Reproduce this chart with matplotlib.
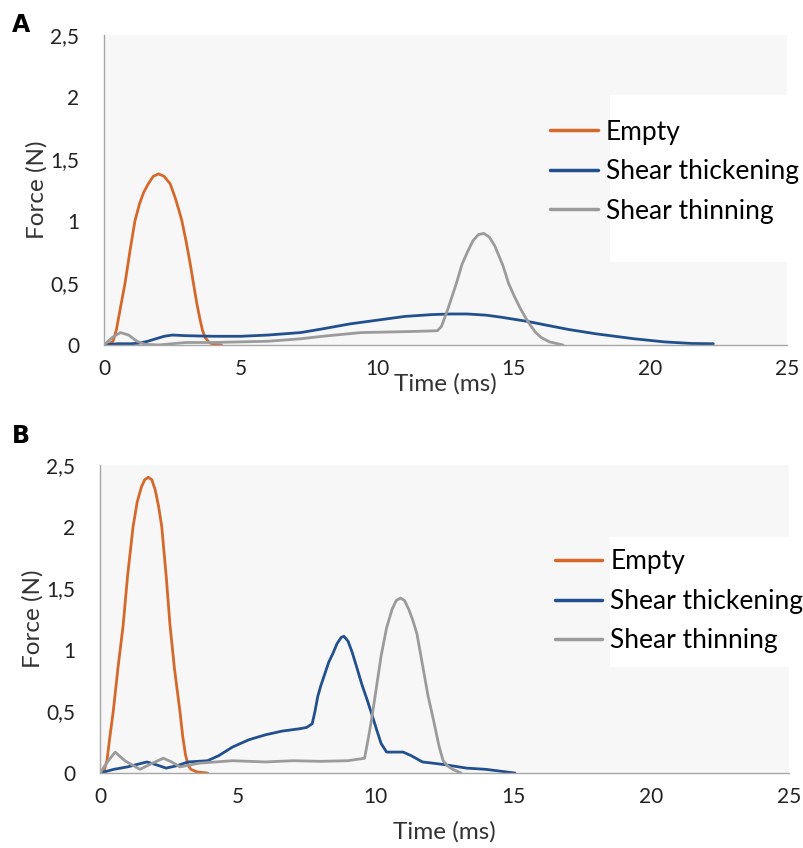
import numpy as np
import matplotlib
matplotlib.use("Agg")
import matplotlib.pyplot as plt
from matplotlib.patches import Rectangle

plt.rcParams['font.family'] = ['Lato', 'DejaVu Sans']

# ===============================
# Data (time in ms, force in N)
# ===============================

# Panel A
a_empty_t = [0, 0.2, 0.33, 0.45, 0.6, 0.77, 0.95, 1.13, 1.3, 1.45, 1.62, 1.8, 2.0, 2.2, 2.42, 2.6, 2.75,
             2.85, 3.0, 3.15, 3.27, 3.4, 3.5, 3.6, 3.7, 3.85, 4.0, 4.3]
a_empty_f = [0, 0.01, 0.03, 0.12, 0.3, 0.5, 0.76, 1.0, 1.14, 1.23, 1.3, 1.36, 1.38, 1.36, 1.3, 1.19, 1.08,
             1.0, 0.84, 0.66, 0.5, 0.33, 0.22, 0.12, 0.06, 0.02, 0.005, 0.0]

a_thick_t = [0, 0.5, 1.0, 1.3, 1.6, 1.9, 2.2, 2.5, 3.0, 4.0, 5.0, 6.0, 7.2, 8.0, 9.0, 10.0, 11.0, 12.0, 12.7,
             13.3, 14.0, 14.5, 15.5, 16.3, 17.0, 18.0, 19.4, 20.5, 21.5, 22.3]
a_thick_f = [0, 0.01, 0.01, 0.015, 0.03, 0.05, 0.07, 0.08, 0.075, 0.07, 0.07, 0.08, 0.1, 0.13, 0.17, 0.2, 0.23,
             0.245, 0.25, 0.25, 0.24, 0.225, 0.19, 0.155, 0.125, 0.09, 0.05, 0.025, 0.012, 0.01]

a_thin_t = [0, 0.3, 0.6, 0.9, 1.2, 1.5, 2.0, 3.0, 4.0, 5.0, 6.0, 7.2, 8.0, 9.4, 10.5, 11.5, 12.2, 12.35,
            12.6, 12.9, 13.1, 13.3, 13.5, 13.7, 13.9, 14.1, 14.3, 14.6, 14.8, 15.0, 15.2, 15.4, 15.6,
            15.8, 16.0, 16.3, 16.8]
a_thin_f = [0, 0.06, 0.1, 0.08, 0.03, 0.005, 0.0, 0.02, 0.02, 0.025, 0.03, 0.05, 0.07, 0.1, 0.105, 0.11, 0.115,
            0.15, 0.3, 0.5, 0.65, 0.75, 0.84, 0.89, 0.9, 0.87, 0.8, 0.64, 0.5, 0.4, 0.31, 0.23, 0.16,
            0.1, 0.06, 0.025, 0.0]

# Panel B
b_empty_t = [0, 0.15, 0.25, 0.35, 0.48, 0.65, 0.84, 1.0, 1.2, 1.35, 1.5, 1.62, 1.75, 1.88, 2.0, 2.12, 2.24,
             2.4, 2.54, 2.7, 2.9, 3.0, 3.1, 3.2, 3.3, 3.5, 3.9]
b_empty_f = [0, 0.02, 0.1, 0.28, 0.5, 0.85, 1.2, 1.6, 2.0, 2.2, 2.32, 2.38, 2.4, 2.38, 2.3, 2.17, 2.0,
             1.6, 1.2, 0.85, 0.5, 0.3, 0.15, 0.06, 0.03, 0.01, 0.0]

b_thick_t = [0, 0.5, 1.0, 1.7, 2.0, 2.4, 2.8, 3.2, 3.9, 4.3, 4.8, 5.4, 6.0, 6.6, 7.26, 7.5, 7.7, 7.8, 7.9,
             8.0, 8.15, 8.3, 8.45, 8.6, 8.75, 8.85, 9.0, 9.15, 9.3, 9.5, 9.7, 9.9, 10.04, 10.2, 10.4,
             10.7, 11.0, 11.3, 11.7, 12.45, 13.3, 14.0, 15.06]
b_thick_f = [0, 0.03, 0.05, 0.09, 0.07, 0.04, 0.06, 0.09, 0.1, 0.14, 0.21, 0.27, 0.31, 0.34, 0.36, 0.37, 0.4,
             0.5, 0.62, 0.7, 0.8, 0.9, 0.97, 1.05, 1.1, 1.11, 1.07, 0.98, 0.87, 0.72, 0.59, 0.45, 0.35,
             0.24, 0.17, 0.17, 0.17, 0.14, 0.09, 0.07, 0.04, 0.03, 0.0]

b_thin_t = [0, 0.3, 0.55, 0.9, 1.45, 1.9, 2.3, 2.6, 2.9, 3.6, 4.8, 6.0, 7.0, 8.0, 9.0, 9.6, 9.75, 9.85,
            10.0, 10.2, 10.4, 10.6, 10.75, 10.9, 11.05, 11.2, 11.35, 11.5, 11.7, 11.9, 12.1, 12.3,
            12.45, 12.6, 12.8, 13.1]
b_thin_f = [0, 0.1, 0.17, 0.1, 0.03, 0.08, 0.12, 0.09, 0.05, 0.08, 0.1, 0.09, 0.1, 0.095, 0.1, 0.12, 0.3, 0.43,
            0.65, 0.95, 1.18, 1.33, 1.4, 1.42, 1.4, 1.33, 1.24, 1.13, 0.88, 0.63, 0.43, 0.22,
            0.1, 0.06, 0.03, 0.0]

SERIES_LABELS = ["Empty", "Shear thickening", "Shear thinning"]
COLORS = ["#d4692b", "#22508f", "#9b9b9b"]
Y_TICKS = [0, 0.5, 1, 1.5, 2, 2.5]
Y_TICK_LABELS = ["0", "0,5", "1", "1,5", "2", "2,5"]
X_TICKS = [0, 5, 10, 15, 20, 25]

# ===============================
# Figure
# ===============================

fig = plt.figure(figsize=(8.04, 8.48), dpi=100)

panels = [
    # letter, axes rect, data, legend anchor, letter pos, xlabel pad, white patch (figure coords)
    ("A", [0.1294, 0.5932, 0.8496, 0.3655], (a_empty_t, a_empty_f), (a_thick_t, a_thick_f),
     (a_thin_t, a_thin_f), (0.653, 0.727), (0.015, 0.97), -4, (0.7587, 0.691, 0.2413, 0.197)),
    ("B", [0.1244, 0.0884, 0.8569, 0.3633], (b_empty_t, b_empty_f), (b_thick_t, b_thick_f),
     (b_thin_t, b_thin_f), (0.660, 0.726), (0.015, 0.486), 10, (0.7587, 0.2134, 0.2413, 0.1533)),
]

for letter, rect, empty, thick, thin, leg_anchor, letter_pos, xpad, patch in panels:
    ax = fig.add_axes(rect)
    ax.set_facecolor("#f7f7f7")
    # white area behind the legend text, as in the source image
    ax.add_patch(Rectangle(patch[:2], patch[2], patch[3], transform=fig.transFigure,
                           facecolor="white", edgecolor="none", zorder=0.5, clip_on=False))
    for (t, f), lab, col in zip([empty, thick, thin], SERIES_LABELS, COLORS):
        ax.plot(t, f, color=col, lw=2.0, label=lab, solid_capstyle="round")
    ax.set_xlim(0, 25)
    ax.set_ylim(0, 2.5)
    ax.set_xticks(X_TICKS)
    ax.set_yticks(Y_TICKS)
    ax.set_yticklabels(Y_TICK_LABELS)
    ax.tick_params(length=0, labelsize=15, colors="#222222")
    ax.tick_params(axis="x", pad=10)
    ax.tick_params(axis="y", pad=18)
    for side in ["top", "right"]:
        ax.spines[side].set_visible(False)
    for side in ["left", "bottom"]:
        ax.spines[side].set_color("#a6a6a6")
        ax.spines[side].set_linewidth(1.0)
    ax.set_ylabel("Force (N)", fontsize=17.5, color="#333333", labelpad=2)
    ax.set_xlabel("Time (ms)", fontsize=17.5, color="#333333", labelpad=xpad)
    leg = ax.legend(loc="upper left", bbox_to_anchor=leg_anchor, frameon=False, fontsize=19,
                    handlelength=1.8, handletextpad=0.3, labelspacing=0.55, borderpad=0,
                    borderaxespad=0)
    leg.set_zorder(10)
    for line in leg.get_lines():
        line.set_linewidth(2.5)
    fig.text(letter_pos[0], letter_pos[1], letter, fontsize=17, fontweight="bold",
             family=["DejaVu Sans"], va="center", ha="left")

fig.savefig("out.png", dpi=100, facecolor="white")
